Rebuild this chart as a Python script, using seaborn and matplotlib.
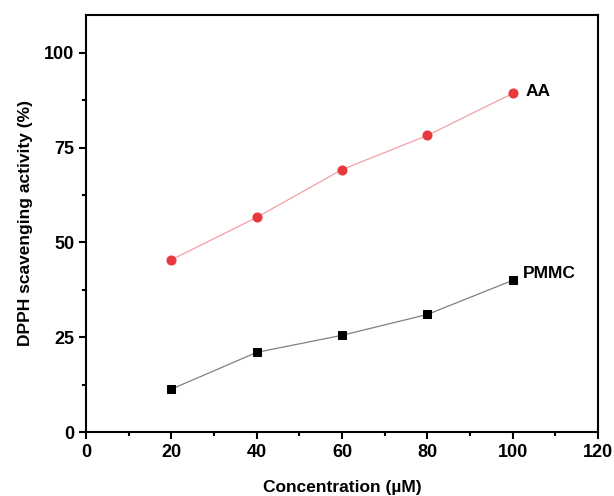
import seaborn as sns
import matplotlib.pyplot as plt
from matplotlib.ticker import MultipleLocator
import pandas as pd

conc = [20, 40, 60, 80, 100]
aa = [45.4, 56.6, 69.2, 78.2, 89.3]
pmmc = [11.3, 21.0, 25.5, 31.0, 40.0]

sns.set_style('ticks')
plt.rcParams['font.family'] = ['Liberation Sans', 'DejaVu Sans']
plt.rcParams['font.weight'] = 'bold'
plt.rcParams['text.color'] = 'black'
plt.rcParams['axes.labelcolor'] = 'black'
plt.rcParams['xtick.color'] = 'black'
plt.rcParams['ytick.color'] = 'black'

df_aa = pd.DataFrame({'x': conc, 'y': aa})
df_pm = pd.DataFrame({'x': conc, 'y': pmmc})

fig = plt.figure(figsize=(6.14, 4.96), dpi=100)
ax = fig.add_axes([0.140, 0.129, 0.834, 0.841])

sns.lineplot(data=df_aa, x='x', y='y', ax=ax, color='#f4a0a8', lw=0.9,
             marker='o', markersize=6.5, markerfacecolor='#e8383d', markeredgecolor='#e8383d')
sns.lineplot(data=df_pm, x='x', y='y', ax=ax, color='#808080', lw=0.9,
             marker='s', markersize=5.5, markerfacecolor='black', markeredgecolor='black')

ax.text(103, aa[-1] + 0.5, 'AA', fontsize=12.5, fontweight='bold', va='center', ha='left')
ax.text(102.5, pmmc[-1] + 1.8, 'PMMC', fontsize=12.5, fontweight='bold', va='center', ha='left')

ax.set_xlim(0, 120)
ax.set_ylim(0, 110)
ax.xaxis.set_major_locator(MultipleLocator(20))
ax.xaxis.set_minor_locator(MultipleLocator(10))
ax.yaxis.set_major_locator(MultipleLocator(25))
ax.yaxis.set_minor_locator(MultipleLocator(12.5))
ax.tick_params(which='major', direction='out', length=5, width=1.5, labelsize=13)
ax.tick_params(which='minor', direction='out', length=3, width=1.5)
for lab in ax.get_xticklabels() + ax.get_yticklabels():
    lab.set_fontweight('bold')
for s in ax.spines.values():
    s.set_linewidth(1.5)
    s.set_color('black')

ax.set_xlabel('Concentration (\u00b5M)', fontsize=12.5, fontweight='bold', labelpad=14)
ax.set_ylabel('DPPH scavenging activity (%)', fontsize=12.5, fontweight='bold', labelpad=8)

fig.savefig('out.png', dpi=100)
